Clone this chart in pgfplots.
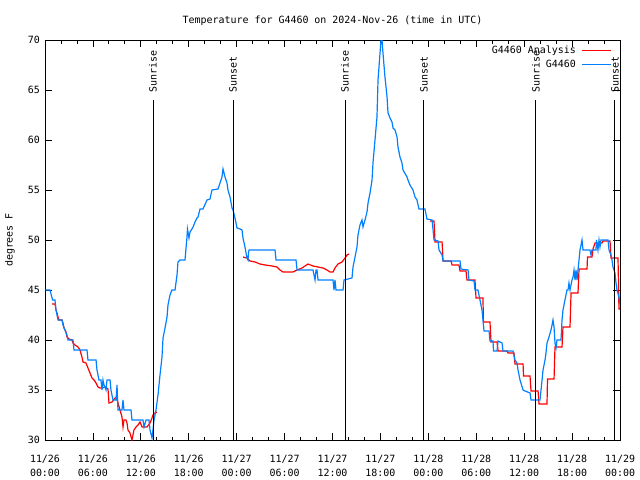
\documentclass[border=0pt]{standalone}
\usepackage{fontspec}
\setmainfont{DejaVu Sans Mono}
\usepackage{pgfplots}
\pgfplotsset{compat=1.18}
\definecolor{gred}{RGB}{255,0,0}
\definecolor{gblue}{RGB}{0,128,255}
\begin{document}
\fontsize{10}{12}\selectfont
\begin{tikzpicture}
\useasboundingbox (-45bp,-40bp) rectangle (595bp,440bp);
\begin{axis}[
  at={(0bp,0bp)}, anchor=south west,
  scale only axis, width=575bp, height=400bp,
  xmin=0, xmax=72, ymin=30, ymax=70,
  xtick={0,6,...,72},
  xticklabels={{11/26\\00:00},{11/26\\06:00},{11/26\\12:00},{11/26\\18:00},{11/27\\00:00},{11/27\\06:00},{11/27\\12:00},{11/27\\18:00},{11/28\\00:00},{11/28\\06:00},{11/28\\12:00},{11/28\\18:00},{11/29\\00:00}},
  xticklabel style={align=center, anchor=north, inner sep=0pt, yshift=-15bp, font=\fontsize{10}{14}\selectfont},
  minor x tick num=2,
  ytick={30,35,...,70},
  yticklabel style={anchor=east, inner sep=0pt, xshift=-5bp, /pgf/number format/assume math mode=true},
  tick align=inside,
  major tick length=7bp, minor tick length=3.5bp,
  tick style={black, line width=0.8bp},
  axis line style={line width=0.9bp},
  ylabel={degrees F},
  ylabel style={at={(axis description cs:-0.0609,0.5)}, anchor=center},
  title={Temperature for G4460 on 2024-Nov-26 (time in UTC)},
  title style={at={(axis description cs:0.5,1)}, anchor=base, yshift=11bp},
  legend style={draw=none, fill=none, at={(axis description cs:0.9857,0.991)}, anchor=north east, inner sep=0pt, row sep=0pt, nodes={inner sep=2.5bp}, /tikz/column sep=3.0bp},
  legend cell align=right,
  legend plot pos=right,
  legend image code/.code={\draw[#1, line width=1.2bp] (0bp,0bp) -- (29bp,0bp);},
  clip mode=individual,
]
% Analysis (red), three separate pieces
\addplot[gred, line width=1.2bp] coordinates {
(0.88,43.6) (1.25,43.6) (1.38,43.0) (1.50,42.7) (1.63,42.3) (1.75,42.0) (2.13,42.0) (2.25,41.7) (2.38,41.2) (2.63,40.8) (2.75,40.3) (3.01,40.1) (3.38,40.0) (3.51,39.7) (3.76,39.5) (4.13,39.3) (4.38,39.0) (4.63,38.3) (4.76,37.8) (5.13,37.7) (5.38,37.2) (5.63,36.7) (5.89,36.2) (6.14,36.0) (6.39,35.7) (6.64,35.3) (6.89,35.2) (7.14,35.2) (7.51,35.3) (7.89,35.1) (8.01,33.7) (8.39,33.8) (8.77,34.2) (9.02,34.3) (9.14,33.7) (9.39,33.0) (9.64,32.3) (9.77,31.3) (9.89,32.0) (10.14,32.0) (10.27,31.7) (10.39,31.0) (10.64,30.7) (10.89,30.0) (11.14,31.0) (11.40,31.3) (11.65,31.5) (11.90,31.8) (12.15,31.3) (12.77,31.3) (13.15,31.7) (13.40,32.2) (13.52,32.5) (13.77,32.7) (14.02,32.8)
};
\addlegendentry{G4460 Analysis}
\addplot[gred, line width=1.2bp, forget plot] coordinates {
(24.79,48.3) (25.29,48.2) (25.67,47.9) (26.30,47.8) (26.92,47.6) (27.55,47.5) (28.43,47.4) (29.05,47.3) (29.43,47.0) (29.80,46.8) (31.05,46.8) (31.56,47.0) (32.18,47.2) (32.56,47.4) (32.93,47.6) (33.56,47.4) (34.19,47.3) (34.81,47.2) (35.31,47.0) (35.69,46.8) (36.06,46.8) (36.31,47.2) (36.69,47.6) (37.19,47.8) (37.57,48.2) (37.82,48.5) (38.07,48.6)
};
\addplot[gred, line width=1.2bp, forget plot] coordinates {
(48.21,51.9) (48.71,51.9) (48.84,49.8) (49.72,49.8) (49.84,47.9) (50.84,47.9) (50.97,47.5) (51.84,47.5) (51.97,46.9) (52.72,46.9) (52.84,46.0) (53.84,46.0) (53.97,44.2) (54.84,44.2) (54.90,41.8) (55.72,41.8) (55.85,39.8) (56.60,39.8) (56.73,38.9) (57.85,38.9) (57.98,38.7) (58.73,38.7) (58.85,37.6) (59.86,37.6) (59.92,36.4) (60.73,36.4) (60.86,34.9) (61.74,34.9) (61.86,33.6) (62.86,33.6) (62.92,36.1) (63.74,36.1) (63.86,39.3) (64.74,39.3) (64.86,41.3) (65.74,41.3) (65.87,44.7) (66.74,44.7) (66.87,47.1) (67.87,47.1) (67.93,48.3) (68.49,48.3) (68.62,49.1) (68.87,49.7) (69.75,49.7) (69.87,49.9) (70.75,49.9) (70.87,48.2) (71.75,48.2) (71.87,43.1) (72.00,43.1)
};
% Observed (blue)
\addplot[gblue, line width=1.2bp] coordinates {
(0.06,45.0) (0.63,45.0) (0.75,44.6) (0.96,44.0) (1.25,44.0) (1.38,43.0) (1.63,42.0) (2.13,42.0) (2.25,41.5) (2.50,41.0) (2.75,40.5) (2.88,40.0) (3.51,40.0) (3.63,39.0) (5.26,39.0) (5.38,38.0) (6.39,38.0) (6.51,37.0) (6.76,36.0) (7.01,36.0) (7.14,35.0) (7.26,36.0) (7.39,35.5) (7.64,35.0) (7.76,36.0) (8.14,36.0) (8.26,35.0) (8.51,34.0) (8.89,34.0) (9.02,35.5) (9.08,34.0) (9.14,33.0) (9.64,33.0) (9.77,34.0) (9.89,33.0) (10.77,33.0) (10.89,32.0) (12.27,32.0) (12.40,31.3) (12.65,32.0) (13.02,32.0) (13.15,31.0) (13.40,30.2) (13.52,31.0) (13.65,32.0) (13.90,33.0) (14.15,34.5) (14.40,36.5) (14.65,38.3) (14.78,40.2) (15.03,41.2) (15.28,42.3) (15.40,43.5) (15.65,44.5) (15.90,45.0) (16.28,45.0) (16.53,46.5) (16.65,47.8) (16.90,48.0) (17.53,48.0) (17.78,50.3) (17.84,51.1) (18.03,50.2) (18.16,50.8) (18.41,51.1) (18.54,51.3) (18.78,51.8) (19.03,52.2) (19.16,52.3) (19.41,53.1) (19.78,53.1) (20.29,54.0) (20.66,54.1) (20.91,55.0) (21.66,55.1) (21.91,55.7) (22.16,56.3) (22.29,57.1) (22.54,56.3) (22.79,55.7) (22.91,55.0) (23.17,54.3) (23.42,53.2) (23.54,53.0) (23.79,52.2) (24.04,51.2) (24.42,51.1) (24.67,51.0) (24.79,50.2) (25.04,49.3) (25.29,48.2) (25.42,48.0) (25.48,48.7) (25.55,49.0) (28.80,49.0) (28.93,48.0) (31.43,48.0) (31.56,47.0) (33.56,47.0) (33.81,46.0) (33.94,47.0) (34.06,47.0) (34.19,46.0) (36.06,46.0) (36.19,45.0) (36.31,46.0) (36.44,45.0) (37.32,45.0) (37.44,46.0) (38.44,46.2) (38.57,47.3) (38.82,48.3) (39.07,49.3) (39.19,50.5) (39.44,51.5) (39.69,52.0) (39.82,51.3) (40.07,52.0) (40.32,52.8) (40.45,53.7) (40.70,54.7) (40.95,56.0) (41.07,57.7) (41.32,60.0) (41.57,62.3) (41.70,66.0) (41.95,68.7) (42.07,70.0) (42.20,70.0) (42.32,68.7) (42.57,66.3) (42.83,64.3) (42.95,62.7) (43.20,62.2) (43.45,61.8) (43.58,61.2) (43.83,61.0) (44.08,60.3) (44.20,59.3) (44.45,58.3) (44.70,57.7) (44.83,57.0) (45.33,56.3) (45.45,56.0) (45.70,55.5) (46.08,55.0) (46.33,54.3) (46.58,54.0) (46.71,53.5) (46.83,53.1) (47.58,53.1) (47.83,52.1) (48.46,52.0) (48.58,51.1) (48.71,50.0) (49.22,49.9) (49.34,49.0) (49.72,48.5) (49.84,47.9) (51.97,47.9) (52.09,47.1) (52.97,47.0) (53.09,46.0) (53.72,45.9) (53.84,45.0) (54.21,45.0) (54.47,44.0) (54.72,43.0) (54.84,42.0) (54.97,40.9) (55.60,40.9) (55.72,39.9) (56.10,39.9) (56.16,38.9) (56.60,38.9) (56.73,39.9) (57.23,39.7) (57.35,38.9) (58.60,38.9) (58.85,38.0) (59.10,37.7) (59.23,37.0) (59.48,36.0) (59.86,35.0) (60.11,34.9) (60.73,34.7) (60.86,34.0) (61.98,34.0) (62.11,35.0) (62.24,36.0) (62.36,37.0) (62.61,38.0) (62.73,38.7) (62.86,39.7) (63.11,40.3) (63.36,41.0) (63.49,41.5) (63.61,42.0) (63.74,41.3) (63.86,39.7) (63.99,39.2) (64.11,40.0) (64.61,40.0) (64.68,41.0) (64.74,42.0) (64.86,43.0) (65.11,44.0) (65.36,45.0) (65.49,45.0) (65.61,45.7) (65.74,45.0) (65.99,46.0) (66.12,46.3) (66.24,47.0) (66.37,46.0) (66.49,47.0) (66.62,46.0) (66.74,47.0) (66.87,48.0) (66.99,49.0) (67.12,49.5) (67.24,50.0) (67.37,49.0) (68.24,49.0) (68.37,48.5) (68.49,49.0) (68.99,49.0) (69.05,50.0) (69.24,49.0) (69.37,50.0) (69.49,49.3) (69.62,50.0) (69.87,50.0) (70.50,50.0) (70.62,49.0) (70.87,48.5) (71.00,48.0) (71.12,47.3) (71.37,46.7) (71.50,45.7) (71.62,45.0) (71.87,44.3) (72.00,43.5)
};
\addlegendentry{G4460}
% Sunrise / sunset markers
\addplot[black, line width=0.9bp, forget plot] coordinates {(13.52,30) (13.52,64)} node[pos=1, rotate=90, anchor=west, inner xsep=7bp, inner ysep=0pt] {Sunrise};
\addplot[black, line width=0.9bp, forget plot] coordinates {(23.54,30) (23.54,64)} node[pos=1, rotate=90, anchor=west, inner xsep=7bp, inner ysep=0pt] {Sunset};
\addplot[black, line width=0.9bp, forget plot] coordinates {(37.56,30) (37.56,64)} node[pos=1, rotate=90, anchor=west, inner xsep=7bp, inner ysep=0pt] {Sunrise};
\addplot[black, line width=0.9bp, forget plot] coordinates {(47.45,30) (47.45,64)} node[pos=1, rotate=90, anchor=west, inner xsep=7bp, inner ysep=0pt] {Sunset};
\addplot[black, line width=0.9bp, forget plot] coordinates {(61.47,30) (61.47,64)} node[pos=1, rotate=90, anchor=west, inner xsep=7bp, inner ysep=0pt] {Sunrise};
\addplot[black, line width=0.9bp, forget plot] coordinates {(71.36,30) (71.36,64)} node[pos=1, rotate=90, anchor=west, inner xsep=7bp, inner ysep=0pt] {Sunset};
\end{axis}
\end{tikzpicture}
\end{document}
